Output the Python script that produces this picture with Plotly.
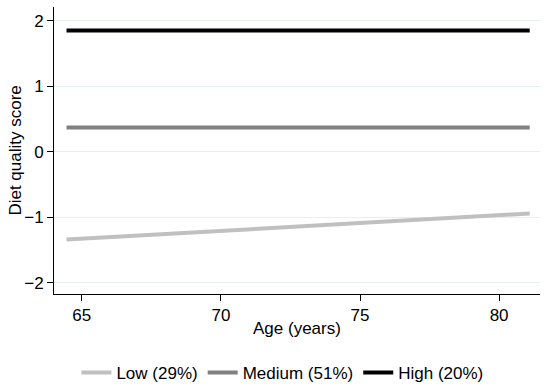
import plotly.graph_objects as go

ages = [64.45, 81.1]
low = [-1.34, -0.94]
medium = [0.37, 0.37]
high = [1.85, 1.85]
names = ["Low (29%)", "Medium (51%)", "High (20%)"]
colors = ["#c0c0c0", "#808080", "#000000"]

fig = go.Figure()
for name, vals, c in zip(names, [low, medium, high], colors):
    fig.add_trace(go.Scatter(x=ages, y=vals, mode="lines", name=name,
                             line=dict(color=c, width=4)))

font = dict(family="Liberation Sans, Arial, sans-serif", size=17, color="#000000")
fig.update_layout(
    width=550, height=392,
    margin=dict(l=54, r=10, t=7, b=98, autoexpand=False),
    plot_bgcolor="white", paper_bgcolor="white",
    font=font,
    legend=dict(orientation="h", x=0.47, xanchor="center", y=-0.275, yanchor="middle",
                font=font, itemwidth=30, tracegroupgap=0),
    xaxis=dict(range=[64.0, 81.47], tickvals=[65, 70, 75, 80],
               showline=True, linecolor="#000000", linewidth=1,
               ticks="outside", ticklen=6, tickcolor="#000000",
               showgrid=False, zeroline=False, automargin=False,
               tickfont=font),
    yaxis=dict(range=[-2.17, 2.21], tickvals=[-2, -1, 0, 1, 2],
               ticktext=["\u22122", "\u22121", "0", "1", "2"],
               showline=True, linecolor="#000000", linewidth=1,
               ticks="outside", ticklen=6, tickcolor="#000000",
               showgrid=True, gridcolor="#e6f0f2", gridwidth=1,
               zeroline=False, automargin=False, tickfont=font),
    annotations=[
        dict(text="Age (years)", xref="paper", yref="paper", x=0.501, y=-0.12,
             xanchor="center", yanchor="middle", showarrow=False, font=font),
        dict(text="Diet quality score", xref="paper", yref="paper", x=-0.08, y=0.5,
             xanchor="center", yanchor="middle", textangle=-90, showarrow=False, font=font),
    ],
)
fig.write_html("out.html", config={"displayModeBar": False},
               post_script="document.body.style.margin='0px';document.body.style.overflow='hidden';")
